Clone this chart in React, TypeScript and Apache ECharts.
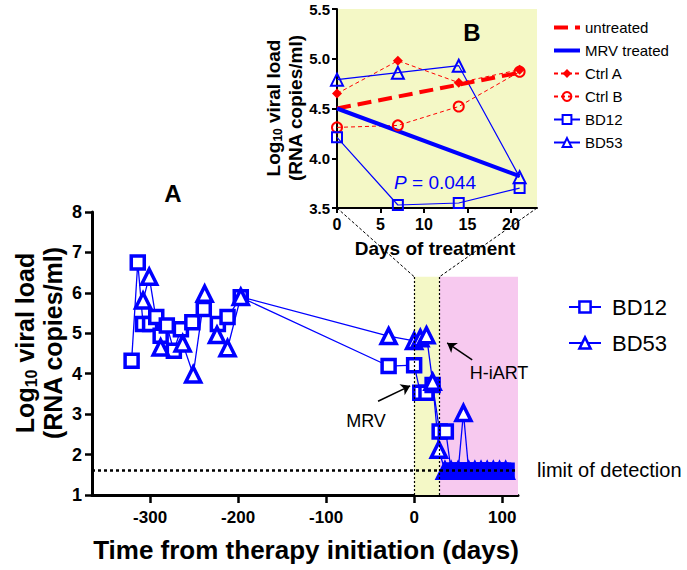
import React, { useEffect, useRef } from "react";
import * as echarts from "echarts";

const BLUE = "#0000ff";
const RED = "#ff0000";
const YELLOW = "#f4f8c6";
const PINK = "#f7c9ef";

// Main panel A: days from therapy initiation and log10 viral load
const bd12Days = [-321, -314, -308, -300, -293, -288, -281, -273, -265, -252, -239, -223, -212, -197, -29, 0, 7, 14, 21, 29, 36, 42, 45, 49, 52, 56, 59, 63, 66, 70, 73, 77, 80, 84, 87, 91, 94, 98, 101, 105];
const bd12Vals = [4.32, 6.75, 5.23, 5.23, 5.4, 4.94, 5.19, 4.57, 5.1, 5.27, 5.6, 5.23, 5.4, 5.89, 4.19, 4.21, 3.53, 3.53, 3.72, 2.57, 2.57, 1.6, 1.6, 1.6, 1.6, 1.6, 1.6, 1.6, 1.6, 1.6, 1.6, 1.6, 1.6, 1.6, 1.6, 1.6, 1.6, 1.6, 1.6, 1.6];
const bd53Days = [-308, -301, -288, -263, -251, -238, -224, -212, -197, -29, 0, 7, 14, 21, 28, 35, 42, 50, 56, 62, 69, 76, 83, 90, 97, 104];
const bd53Vals = [5.81, 6.4, 4.65, 4.75, 3.98, 5.98, 4.96, 4.63, 5.9, 4.93, 4.81, 4.88, 4.95, 3.8, 2.12, 1.6, 1.6, 1.6, 3.03, 1.6, 1.6, 1.6, 1.6, 1.6, 1.6, 1.6];
const mainXTicks = [-300, -200, -100, 0, 100];
const limitOfDetection = 1.6;
const mrvStart = 0;
const hiartStart = 29;
const bandTop = 6.4;

// Inset panel B: days of treatment
const insetDays = [0, 7, 14, 21];
const ctrlA = [4.65, 4.98, 4.76, 4.89];
const ctrlB = [4.31, 4.33, 4.52, 4.87];
const bd12Inset = [4.21, 3.53, 3.55, 3.7];
const bd53Inset = [4.79, 4.86, 4.93, 3.81];
const trendDays = [0, 21];
const untreatedTrend = [4.5, 4.86];
const mrvTrend = [4.5, 3.82];
const insetXTicks = [0, 5, 10, 15, 20];

const pairs = (xs: number[], ys: number[]) => xs.map((x, i) => [x, ys[i]]);
// points at the detection limit overlap into a solid band
const mainPairs = (xs: number[], ys: number[]) =>
  xs.map((x, i) => (ys[i] <= limitOfDetection ? { value: [x, ys[i]], itemStyle: { color: BLUE } } : [x, ys[i]]));

export default function App() {
  const ref = useRef<HTMLDivElement>(null);
  useEffect(() => {
    const chart = echarts.init(ref.current!, null, { renderer: "svg" });
    const font = "Liberation Sans, Arial, sans-serif";
    const option: any = {
      animation: false,
      textStyle: { fontFamily: font },
      grid: [
        { left: 92, top: 212, width: 426, height: 283 },
        { left: 337, top: 9, width: 200, height: 199, show: true, backgroundColor: YELLOW, borderWidth: 0 },
      ],
      xAxis: [
        {
          type: "value", gridIndex: 0, min: -366, max: 118,
          axisLine: { onZero: false, lineStyle: { color: "#000", width: 3 } },
          axisTick: { customValues: mainXTicks, length: 8, lineStyle: { color: "#000", width: 2.5 } },
          axisLabel: { customValues: mainXTicks, fontSize: 17, fontWeight: "bold", color: "#000", margin: 14 },
          splitLine: { show: false },
        },
        {
          type: "value", gridIndex: 1, min: 0, max: 23,
          axisLine: { onZero: false, lineStyle: { color: "#000", width: 2 } },
          axisTick: { customValues: insetXTicks, length: 5, lineStyle: { color: "#000", width: 2 } },
          axisLabel: { customValues: insetXTicks, fontSize: 16, fontWeight: "bold", color: "#000", margin: 8 },
          splitLine: { show: false },
        },
      ],
      yAxis: [
        {
          type: "value", gridIndex: 0, min: 1, max: 8, interval: 1,
          axisLine: { show: true, onZero: false, lineStyle: { color: "#000", width: 3 } },
          axisTick: { show: true, length: 7, lineStyle: { color: "#000", width: 2.5 } },
          axisLabel: { fontSize: 18, fontWeight: "bold", color: "#000", margin: 10 },
          splitLine: { show: false },
        },
        {
          type: "value", gridIndex: 1, min: 3.5, max: 5.5, interval: 0.5,
          axisLine: { show: true, onZero: false, lineStyle: { color: "#000", width: 2 } },
          axisTick: { show: true, length: 5, lineStyle: { color: "#000", width: 2 } },
          axisLabel: { fontSize: 15, fontWeight: "bold", color: "#000", margin: 7, formatter: (v: number) => v.toFixed(1) },
          splitLine: { show: false },
        },
      ],
      legend: [
        {
          data: [
            { name: "BD12", itemStyle: { borderWidth: 2.5 } },
            { name: "BD53", itemStyle: { borderWidth: 2.5 } },
          ],
          orient: "vertical", left: 563, top: 291, itemWidth: 32, itemHeight: 14, itemGap: 14,
          selectedMode: false,
          textStyle: { fontSize: 22, color: "#000", padding: [0, 0, 0, 6] },
        },
        {
          data: [
            { name: "untreated", itemStyle: { color: "rgba(0,0,0,0)", borderWidth: 0 }, lineStyle: { width: 4, color: RED, type: [14, 7] } },
            { name: "MRV treated", itemStyle: { color: "rgba(0,0,0,0)", borderWidth: 0 }, lineStyle: { width: 4, color: BLUE, type: "solid" } },
            { name: "Ctrl A" },
            { name: "Ctrl B" },
            { name: "BD12", itemStyle: { borderWidth: 2 } },
            { name: "BD53", itemStyle: { borderWidth: 2 } },
          ],
          orient: "vertical", left: 547, top: 15, itemWidth: 26, itemHeight: 11, itemGap: 8,
          selectedMode: false,
          textStyle: { fontSize: 15, color: "#000" },
        },
      ],
      series: [
        {
          type: "line", name: "refs", xAxisIndex: 0, yAxisIndex: 0, data: [], z: 1, silent: true,
          markArea: {
            silent: true,
            data: [
              [{ xAxis: mrvStart, yAxis: 1, itemStyle: { color: YELLOW } }, { xAxis: hiartStart, yAxis: bandTop }],
              [{ xAxis: hiartStart, yAxis: 1, itemStyle: { color: PINK } }, { xAxis: 118, yAxis: bandTop }],
            ],
          },
          markLine: {
            silent: true, symbol: "none", label: { show: false },
            data: [
              { yAxis: limitOfDetection, lineStyle: { color: "#000", width: 2.5, type: [3, 3] } },
              [{ coord: [mrvStart, 1], lineStyle: { color: "#000", width: 1.2, type: [2, 2] } }, { coord: [mrvStart, bandTop] }],
              [{ coord: [hiartStart, 1], lineStyle: { color: "#000", width: 1.2, type: [2, 2] } }, { coord: [hiartStart, bandTop] }],
            ],
          },
        },
        {
          type: "line", name: "arrows", xAxisIndex: 0, yAxisIndex: 0, data: [], z: 5, silent: true,
          markLine: {
            silent: true, symbol: ["none", "arrow"], symbolSize: 9, label: { show: false },
            lineStyle: { color: "#000", width: 1.5, type: "solid" },
            data: [
              [{ coord: [-41, 3.32] }, { coord: [-4.5, 3.7] }],
              [{ coord: [66, 4.34] }, { coord: [37.5, 4.76] }],
            ],
          },
        },
        {
          type: "line", name: "BD12", xAxisIndex: 0, yAxisIndex: 0, z: 3,
          data: mainPairs(bd12Days, bd12Vals),
          symbol: "rect", symbolSize: 13,
          itemStyle: { color: "#fff", borderColor: BLUE, borderWidth: 3.5 },
          lineStyle: { color: BLUE, width: 1.3 },
        },
        {
          type: "line", name: "BD53", xAxisIndex: 0, yAxisIndex: 0, z: 3,
          data: mainPairs(bd53Days, bd53Vals),
          symbol: "triangle", symbolSize: 15,
          itemStyle: { color: "#fff", borderColor: BLUE, borderWidth: 3.5 },
          lineStyle: { color: BLUE, width: 1.3 },
        },
        {
          type: "line", name: "Ctrl A", xAxisIndex: 1, yAxisIndex: 1,
          data: pairs(insetDays, ctrlA),
          symbol: "diamond", symbolSize: 10,
          itemStyle: { color: RED },
          lineStyle: { color: RED, width: 1, type: [4, 3] },
        },
        {
          type: "line", name: "Ctrl B", xAxisIndex: 1, yAxisIndex: 1,
          data: pairs(insetDays, ctrlB),
          symbol: "circle", symbolSize: 10,
          itemStyle: { color: "rgba(0,0,0,0)", borderColor: RED, borderWidth: 2 },
          lineStyle: { color: RED, width: 1, type: [4, 3] },
        },
        {
          type: "line", name: "BD12", xAxisIndex: 1, yAxisIndex: 1,
          data: pairs(insetDays, bd12Inset),
          symbol: "rect", symbolSize: 10,
          itemStyle: { color: "rgba(0,0,0,0)", borderColor: BLUE, borderWidth: 2 },
          lineStyle: { color: BLUE, width: 1.2 },
        },
        {
          type: "line", name: "BD53", xAxisIndex: 1, yAxisIndex: 1,
          data: pairs(insetDays, bd53Inset),
          symbol: "triangle", symbolSize: 12,
          itemStyle: { color: "rgba(0,0,0,0)", borderColor: BLUE, borderWidth: 2 },
          lineStyle: { color: BLUE, width: 1.2 },
        },
        {
          type: "line", name: "untreated", xAxisIndex: 1, yAxisIndex: 1,
          data: pairs(trendDays, untreatedTrend),
          symbol: "none", itemStyle: { color: RED },
          lineStyle: { color: RED, width: 4, type: [14, 7] },
        },
        {
          type: "line", name: "MRV treated", xAxisIndex: 1, yAxisIndex: 1,
          data: pairs(trendDays, mrvTrend),
          symbol: "none", itemStyle: { color: BLUE },
          lineStyle: { color: BLUE, width: 4 },
        },
      ],
    };
    chart.setOption(option);

    const pi = (g: number, v: number[]) => chart.convertToPixel({ gridIndex: g }, v) as number[];
    const a0 = pi(1, [0, 3.5]);
    const a1 = pi(0, [mrvStart, bandTop]);
    const b0 = pi(1, [23, 3.5]);
    const b1 = pi(0, [hiartStart, bandTop]);
    const dashed = { stroke: "#000", lineWidth: 1, lineDash: [3, 2] };
    const titleRich = (size: number, lh: number) => ({
      a: { fontSize: size, fontWeight: "bold", fontFamily: font, lineHeight: lh, fill: "#000" },
      s: { fontSize: Math.round(size * 0.65), fontWeight: "bold", fontFamily: font, lineHeight: lh, verticalAlign: "bottom", fill: "#000" },
    });
    chart.setOption({
      graphic: [
        { type: "line", z: 50, shape: { x1: a0[0], y1: a0[1], x2: a1[0], y2: a1[1] }, style: dashed, silent: true },
        { type: "line", z: 50, shape: { x1: b0[0], y1: b0[1], x2: b1[0], y2: b1[1] }, style: dashed, silent: true },
        { type: "text", z: 50, x: 173, y: 193, style: { text: "A", fontSize: 24, fontWeight: "bold", fontFamily: font, fill: "#000", align: "center", verticalAlign: "middle" } },
        { type: "text", z: 50, x: 472, y: 32, style: { text: "B", fontSize: 24, fontWeight: "bold", fontFamily: font, fill: "#000", align: "center", verticalAlign: "middle" } },
        {
          type: "text", z: 50, x: 435, y: 182,
          style: {
            text: "{i|P}{n| = 0.044}", align: "center", verticalAlign: "middle",
            rich: {
              i: { fontSize: 19, fontStyle: "italic", fontFamily: font, fill: BLUE },
              n: { fontSize: 19, fontFamily: font, fill: BLUE },
            },
          },
        },
        { type: "text", z: 50, x: 366, y: 421, style: { text: "MRV", fontSize: 18, fontFamily: font, fill: "#000", align: "center", verticalAlign: "middle" } },
        { type: "text", z: 50, x: 499, y: 373, style: { text: "H-iART", fontSize: 18, fontFamily: font, fill: "#000", align: "center", verticalAlign: "middle" } },
        { type: "text", z: 50, x: 537, y: 470, style: { text: "limit of detection", fontSize: 20, fontFamily: font, fill: "#000", align: "left", verticalAlign: "middle" } },
        { type: "text", z: 50, x: 306, y: 550, style: { text: "Time from therapy initiation (days)", fontSize: 26, fontWeight: "bold", fontFamily: font, fill: "#000", align: "center", verticalAlign: "middle" } },
        { type: "text", z: 50, x: 435, y: 248, style: { text: "Days of treatment", fontSize: 19, fontWeight: "bold", fontFamily: font, fill: "#000", align: "center", verticalAlign: "middle" } },
        {
          type: "text", z: 50, x: 39, y: 343, rotation: Math.PI / 2,
          style: { text: "{a|Log}{s|10}{a| viral load}\n{a|(RNA copies/ml)}", align: "center", verticalAlign: "middle", rich: titleRich(25, 28) },
        },
        {
          type: "text", z: 50, x: 284, y: 108, rotation: Math.PI / 2,
          style: { text: "{a|Log}{s|10}{a| viral load}\n{a|(RNA copies/ml)}", align: "center", verticalAlign: "middle", rich: titleRich(19, 22) },
        },
      ],
    });
    return () => chart.dispose();
  }, []);
  return <div ref={ref} style={{ position: "absolute", left: 0, top: 0, width: 687, height: 570 }} />;
}
